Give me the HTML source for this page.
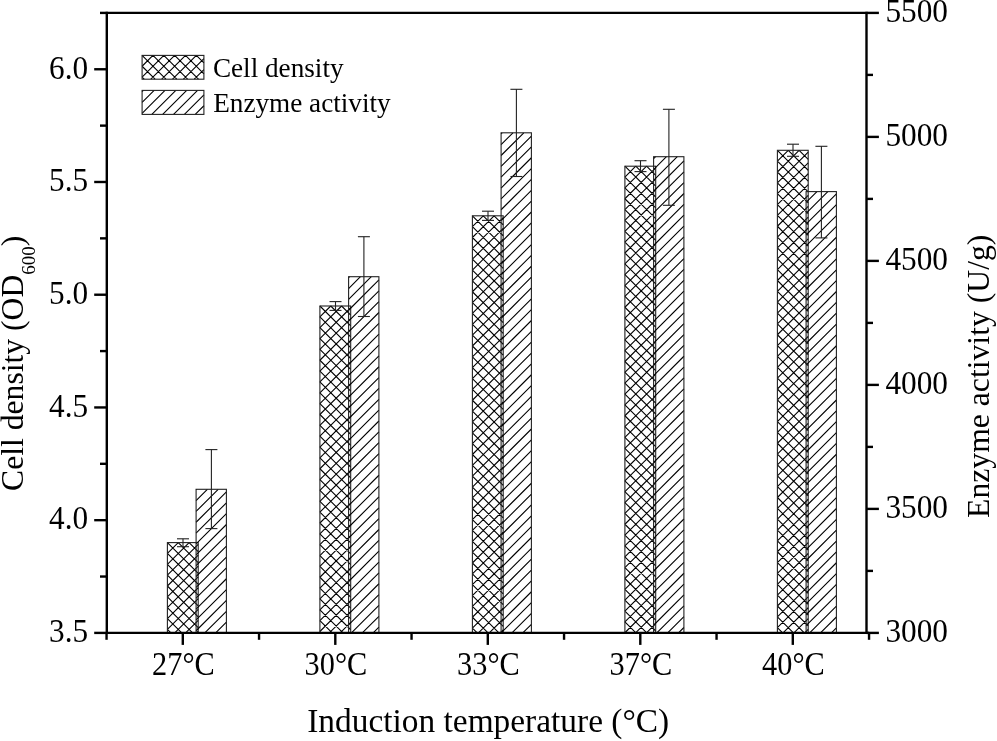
<!DOCTYPE html>
<html lang="en">
<head>
<meta charset="utf-8">
<title>Effect of induction temperature on cell density and enzyme activity</title>
<style>
html,body{margin:0;padding:0;background:#fff;}
body{width:997px;height:741px;overflow:hidden;}
svg text{white-space:pre;}
</style>
</head>
<body>
<svg width="997" height="741" viewBox="0 0 997 741" style="display:block" font-family="'Liberation Serif', serif" fill="#000" stroke="#000">
<rect x="0" y="0" width="997" height="741" fill="#fff" stroke="none"/>
<g id="bars">
<path d="M167.4 553.45L178.25 542.6M167.4 564.3L189.1 542.6M167.4 575.15L198.2 544.35M167.4 586L198.2 555.2M167.4 596.85L198.2 566.05M167.4 607.7L198.2 576.9M167.4 618.55L198.2 587.75M167.4 629.4L198.2 598.6M174.75 632.9L198.2 609.45M185.6 632.9L198.2 620.3M196.45 632.9L198.2 631.15M167.4 629.4L170.9 632.9M167.4 618.55L181.75 632.9M167.4 607.7L192.6 632.9M167.4 596.85L198.2 627.65M167.4 586L198.2 616.8M167.4 575.15L198.2 605.95M167.4 564.3L198.2 595.1M167.4 553.45L198.2 584.25M167.4 542.6L198.2 573.4M178.25 542.6L198.2 562.55M189.1 542.6L198.2 551.7" stroke-width="1.1" fill="none"/>
<rect x="167.4" y="542.6" width="30.8" height="90.3" fill="none" stroke="#222" stroke-width="1.1"/>
<path d="M196.1 489.7L196.5 489.3M196.1 500.55L207.35 489.3M196.1 511.4L218.2 489.3M196.1 522.25L226.4 491.95M196.1 533.1L226.4 502.8M196.1 543.95L226.4 513.65M196.1 554.8L226.4 524.5M196.1 565.65L226.4 535.35M196.1 576.5L226.4 546.2M196.1 587.35L226.4 557.05M196.1 598.2L226.4 567.9M196.1 609.05L226.4 578.75M196.1 619.9L226.4 589.6M196.1 630.75L226.4 600.45M204.8 632.9L226.4 611.3M215.65 632.9L226.4 622.15" stroke-width="1.1" fill="none"/>
<rect x="196.1" y="489.3" width="30.3" height="143.6" fill="none" stroke="#222" stroke-width="1.1"/>
<line x1="183" y1="538.8" x2="183" y2="546.7" stroke-width="1.1" stroke="#222"/>
<line x1="177" y1="538.8" x2="189" y2="538.8" stroke-width="1.1" stroke="#222"/>
<line x1="177" y1="546.7" x2="189" y2="546.7" stroke-width="1.1" stroke="#222"/>
<line x1="211.4" y1="449.6" x2="211.4" y2="528.6" stroke-width="1.1" stroke="#222"/>
<line x1="205.4" y1="449.6" x2="217.4" y2="449.6" stroke-width="1.1" stroke="#222"/>
<line x1="205.4" y1="528.6" x2="217.4" y2="528.6" stroke-width="1.1" stroke="#222"/>
<path d="M319.9 316.85L330.75 306M319.9 327.7L341.6 306M319.9 338.55L350.7 307.75M319.9 349.4L350.7 318.6M319.9 360.25L350.7 329.45M319.9 371.1L350.7 340.3M319.9 381.95L350.7 351.15M319.9 392.8L350.7 362M319.9 403.65L350.7 372.85M319.9 414.5L350.7 383.7M319.9 425.35L350.7 394.55M319.9 436.2L350.7 405.4M319.9 447.05L350.7 416.25M319.9 457.9L350.7 427.1M319.9 468.75L350.7 437.95M319.9 479.6L350.7 448.8M319.9 490.45L350.7 459.65M319.9 501.3L350.7 470.5M319.9 512.15L350.7 481.35M319.9 523L350.7 492.2M319.9 533.85L350.7 503.05M319.9 544.7L350.7 513.9M319.9 555.55L350.7 524.75M319.9 566.4L350.7 535.6M319.9 577.25L350.7 546.45M319.9 588.1L350.7 557.3M319.9 598.95L350.7 568.15M319.9 609.8L350.7 579M319.9 620.65L350.7 589.85M319.9 631.5L350.7 600.7M329.35 632.9L350.7 611.55M340.2 632.9L350.7 622.4M319.9 631.5L321.3 632.9M319.9 620.65L332.15 632.9M319.9 609.8L343 632.9M319.9 598.95L350.7 629.75M319.9 588.1L350.7 618.9M319.9 577.25L350.7 608.05M319.9 566.4L350.7 597.2M319.9 555.55L350.7 586.35M319.9 544.7L350.7 575.5M319.9 533.85L350.7 564.65M319.9 523L350.7 553.8M319.9 512.15L350.7 542.95M319.9 501.3L350.7 532.1M319.9 490.45L350.7 521.25M319.9 479.6L350.7 510.4M319.9 468.75L350.7 499.55M319.9 457.9L350.7 488.7M319.9 447.05L350.7 477.85M319.9 436.2L350.7 467M319.9 425.35L350.7 456.15M319.9 414.5L350.7 445.3M319.9 403.65L350.7 434.45M319.9 392.8L350.7 423.6M319.9 381.95L350.7 412.75M319.9 371.1L350.7 401.9M319.9 360.25L350.7 391.05M319.9 349.4L350.7 380.2M319.9 338.55L350.7 369.35M319.9 327.7L350.7 358.5M319.9 316.85L350.7 347.65M319.9 306L350.7 336.8M330.75 306L350.7 325.95M341.6 306L350.7 315.1" stroke-width="1.1" fill="none"/>
<rect x="319.9" y="306" width="30.8" height="326.9" fill="none" stroke="#222" stroke-width="1.1"/>
<path d="M348.6 277.7L349.6 276.7M348.6 288.55L360.45 276.7M348.6 299.4L371.3 276.7M348.6 310.25L378.9 279.95M348.6 321.1L378.9 290.8M348.6 331.95L378.9 301.65M348.6 342.8L378.9 312.5M348.6 353.65L378.9 323.35M348.6 364.5L378.9 334.2M348.6 375.35L378.9 345.05M348.6 386.2L378.9 355.9M348.6 397.05L378.9 366.75M348.6 407.9L378.9 377.6M348.6 418.75L378.9 388.45M348.6 429.6L378.9 399.3M348.6 440.45L378.9 410.15M348.6 451.3L378.9 421M348.6 462.15L378.9 431.85M348.6 473L378.9 442.7M348.6 483.85L378.9 453.55M348.6 494.7L378.9 464.4M348.6 505.55L378.9 475.25M348.6 516.4L378.9 486.1M348.6 527.25L378.9 496.95M348.6 538.1L378.9 507.8M348.6 548.95L378.9 518.65M348.6 559.8L378.9 529.5M348.6 570.65L378.9 540.35M348.6 581.5L378.9 551.2M348.6 592.35L378.9 562.05M348.6 603.2L378.9 572.9M348.6 614.05L378.9 583.75M348.6 624.9L378.9 594.6M351.45 632.9L378.9 605.45M362.3 632.9L378.9 616.3M373.15 632.9L378.9 627.15" stroke-width="1.1" fill="none"/>
<rect x="348.6" y="276.7" width="30.3" height="356.2" fill="none" stroke="#222" stroke-width="1.1"/>
<line x1="335.5" y1="301.6" x2="335.5" y2="310.4" stroke-width="1.1" stroke="#222"/>
<line x1="329.5" y1="301.6" x2="341.5" y2="301.6" stroke-width="1.1" stroke="#222"/>
<line x1="329.5" y1="310.4" x2="341.5" y2="310.4" stroke-width="1.1" stroke="#222"/>
<line x1="363.9" y1="236.7" x2="363.9" y2="316.5" stroke-width="1.1" stroke="#222"/>
<line x1="357.9" y1="236.7" x2="369.9" y2="236.7" stroke-width="1.1" stroke="#222"/>
<line x1="357.9" y1="316.5" x2="369.9" y2="316.5" stroke-width="1.1" stroke="#222"/>
<path d="M472.4 226.65L483.25 215.8M472.4 237.5L494.1 215.8M472.4 248.35L503.2 217.55M472.4 259.2L503.2 228.4M472.4 270.05L503.2 239.25M472.4 280.9L503.2 250.1M472.4 291.75L503.2 260.95M472.4 302.6L503.2 271.8M472.4 313.45L503.2 282.65M472.4 324.3L503.2 293.5M472.4 335.15L503.2 304.35M472.4 346L503.2 315.2M472.4 356.85L503.2 326.05M472.4 367.7L503.2 336.9M472.4 378.55L503.2 347.75M472.4 389.4L503.2 358.6M472.4 400.25L503.2 369.45M472.4 411.1L503.2 380.3M472.4 421.95L503.2 391.15M472.4 432.8L503.2 402M472.4 443.65L503.2 412.85M472.4 454.5L503.2 423.7M472.4 465.35L503.2 434.55M472.4 476.2L503.2 445.4M472.4 487.05L503.2 456.25M472.4 497.9L503.2 467.1M472.4 508.75L503.2 477.95M472.4 519.6L503.2 488.8M472.4 530.45L503.2 499.65M472.4 541.3L503.2 510.5M472.4 552.15L503.2 521.35M472.4 563L503.2 532.2M472.4 573.85L503.2 543.05M472.4 584.7L503.2 553.9M472.4 595.55L503.2 564.75M472.4 606.4L503.2 575.6M472.4 617.25L503.2 586.45M472.4 628.1L503.2 597.3M478.45 632.9L503.2 608.15M489.3 632.9L503.2 619M500.15 632.9L503.2 629.85M472.4 628.1L477.2 632.9M472.4 617.25L488.05 632.9M472.4 606.4L498.9 632.9M472.4 595.55L503.2 626.35M472.4 584.7L503.2 615.5M472.4 573.85L503.2 604.65M472.4 563L503.2 593.8M472.4 552.15L503.2 582.95M472.4 541.3L503.2 572.1M472.4 530.45L503.2 561.25M472.4 519.6L503.2 550.4M472.4 508.75L503.2 539.55M472.4 497.9L503.2 528.7M472.4 487.05L503.2 517.85M472.4 476.2L503.2 507M472.4 465.35L503.2 496.15M472.4 454.5L503.2 485.3M472.4 443.65L503.2 474.45M472.4 432.8L503.2 463.6M472.4 421.95L503.2 452.75M472.4 411.1L503.2 441.9M472.4 400.25L503.2 431.05M472.4 389.4L503.2 420.2M472.4 378.55L503.2 409.35M472.4 367.7L503.2 398.5M472.4 356.85L503.2 387.65M472.4 346L503.2 376.8M472.4 335.15L503.2 365.95M472.4 324.3L503.2 355.1M472.4 313.45L503.2 344.25M472.4 302.6L503.2 333.4M472.4 291.75L503.2 322.55M472.4 280.9L503.2 311.7M472.4 270.05L503.2 300.85M472.4 259.2L503.2 290M472.4 248.35L503.2 279.15M472.4 237.5L503.2 268.3M472.4 226.65L503.2 257.45M472.4 215.8L503.2 246.6M483.25 215.8L503.2 235.75M494.1 215.8L503.2 224.9" stroke-width="1.1" fill="none"/>
<rect x="472.4" y="215.8" width="30.8" height="417.1" fill="none" stroke="#222" stroke-width="1.1"/>
<path d="M501.1 133.8L502.1 132.8M501.1 144.65L512.95 132.8M501.1 155.5L523.8 132.8M501.1 166.35L531.4 136.05M501.1 177.2L531.4 146.9M501.1 188.05L531.4 157.75M501.1 198.9L531.4 168.6M501.1 209.75L531.4 179.45M501.1 220.6L531.4 190.3M501.1 231.45L531.4 201.15M501.1 242.3L531.4 212M501.1 253.15L531.4 222.85M501.1 264L531.4 233.7M501.1 274.85L531.4 244.55M501.1 285.7L531.4 255.4M501.1 296.55L531.4 266.25M501.1 307.4L531.4 277.1M501.1 318.25L531.4 287.95M501.1 329.1L531.4 298.8M501.1 339.95L531.4 309.65M501.1 350.8L531.4 320.5M501.1 361.65L531.4 331.35M501.1 372.5L531.4 342.2M501.1 383.35L531.4 353.05M501.1 394.2L531.4 363.9M501.1 405.05L531.4 374.75M501.1 415.9L531.4 385.6M501.1 426.75L531.4 396.45M501.1 437.6L531.4 407.3M501.1 448.45L531.4 418.15M501.1 459.3L531.4 429M501.1 470.15L531.4 439.85M501.1 481L531.4 450.7M501.1 491.85L531.4 461.55M501.1 502.7L531.4 472.4M501.1 513.55L531.4 483.25M501.1 524.4L531.4 494.1M501.1 535.25L531.4 504.95M501.1 546.1L531.4 515.8M501.1 556.95L531.4 526.65M501.1 567.8L531.4 537.5M501.1 578.65L531.4 548.35M501.1 589.5L531.4 559.2M501.1 600.35L531.4 570.05M501.1 611.2L531.4 580.9M501.1 622.05L531.4 591.75M501.1 632.9L531.4 602.6M511.95 632.9L531.4 613.45M522.8 632.9L531.4 624.3" stroke-width="1.1" fill="none"/>
<rect x="501.1" y="132.8" width="30.3" height="500.1" fill="none" stroke="#222" stroke-width="1.1"/>
<line x1="488" y1="211.2" x2="488" y2="220.4" stroke-width="1.1" stroke="#222"/>
<line x1="482" y1="211.2" x2="494" y2="211.2" stroke-width="1.1" stroke="#222"/>
<line x1="482" y1="220.4" x2="494" y2="220.4" stroke-width="1.1" stroke="#222"/>
<line x1="516.4" y1="89.3" x2="516.4" y2="176.5" stroke-width="1.1" stroke="#222"/>
<line x1="510.4" y1="89.3" x2="522.4" y2="89.3" stroke-width="1.1" stroke="#222"/>
<line x1="510.4" y1="176.5" x2="522.4" y2="176.5" stroke-width="1.1" stroke="#222"/>
<path d="M624.9 177.05L635.75 166.2M624.9 187.9L646.6 166.2M624.9 198.75L655.7 167.95M624.9 209.6L655.7 178.8M624.9 220.45L655.7 189.65M624.9 231.3L655.7 200.5M624.9 242.15L655.7 211.35M624.9 253L655.7 222.2M624.9 263.85L655.7 233.05M624.9 274.7L655.7 243.9M624.9 285.55L655.7 254.75M624.9 296.4L655.7 265.6M624.9 307.25L655.7 276.45M624.9 318.1L655.7 287.3M624.9 328.95L655.7 298.15M624.9 339.8L655.7 309M624.9 350.65L655.7 319.85M624.9 361.5L655.7 330.7M624.9 372.35L655.7 341.55M624.9 383.2L655.7 352.4M624.9 394.05L655.7 363.25M624.9 404.9L655.7 374.1M624.9 415.75L655.7 384.95M624.9 426.6L655.7 395.8M624.9 437.45L655.7 406.65M624.9 448.3L655.7 417.5M624.9 459.15L655.7 428.35M624.9 470L655.7 439.2M624.9 480.85L655.7 450.05M624.9 491.7L655.7 460.9M624.9 502.55L655.7 471.75M624.9 513.4L655.7 482.6M624.9 524.25L655.7 493.45M624.9 535.1L655.7 504.3M624.9 545.95L655.7 515.15M624.9 556.8L655.7 526M624.9 567.65L655.7 536.85M624.9 578.5L655.7 547.7M624.9 589.35L655.7 558.55M624.9 600.2L655.7 569.4M624.9 611.05L655.7 580.25M624.9 621.9L655.7 591.1M624.9 632.75L655.7 601.95M635.6 632.9L655.7 612.8M646.45 632.9L655.7 623.65M624.9 632.75L625.05 632.9M624.9 621.9L635.9 632.9M624.9 611.05L646.75 632.9M624.9 600.2L655.7 631M624.9 589.35L655.7 620.15M624.9 578.5L655.7 609.3M624.9 567.65L655.7 598.45M624.9 556.8L655.7 587.6M624.9 545.95L655.7 576.75M624.9 535.1L655.7 565.9M624.9 524.25L655.7 555.05M624.9 513.4L655.7 544.2M624.9 502.55L655.7 533.35M624.9 491.7L655.7 522.5M624.9 480.85L655.7 511.65M624.9 470L655.7 500.8M624.9 459.15L655.7 489.95M624.9 448.3L655.7 479.1M624.9 437.45L655.7 468.25M624.9 426.6L655.7 457.4M624.9 415.75L655.7 446.55M624.9 404.9L655.7 435.7M624.9 394.05L655.7 424.85M624.9 383.2L655.7 414M624.9 372.35L655.7 403.15M624.9 361.5L655.7 392.3M624.9 350.65L655.7 381.45M624.9 339.8L655.7 370.6M624.9 328.95L655.7 359.75M624.9 318.1L655.7 348.9M624.9 307.25L655.7 338.05M624.9 296.4L655.7 327.2M624.9 285.55L655.7 316.35M624.9 274.7L655.7 305.5M624.9 263.85L655.7 294.65M624.9 253L655.7 283.8M624.9 242.15L655.7 272.95M624.9 231.3L655.7 262.1M624.9 220.45L655.7 251.25M624.9 209.6L655.7 240.4M624.9 198.75L655.7 229.55M624.9 187.9L655.7 218.7M624.9 177.05L655.7 207.85M624.9 166.2L655.7 197M635.75 166.2L655.7 186.15M646.6 166.2L655.7 175.3" stroke-width="1.1" fill="none"/>
<rect x="624.9" y="166.2" width="30.8" height="466.7" fill="none" stroke="#222" stroke-width="1.1"/>
<path d="M653.6 158.7L655.6 156.7M653.6 169.55L666.45 156.7M653.6 180.4L677.3 156.7M653.6 191.25L683.9 160.95M653.6 202.1L683.9 171.8M653.6 212.95L683.9 182.65M653.6 223.8L683.9 193.5M653.6 234.65L683.9 204.35M653.6 245.5L683.9 215.2M653.6 256.35L683.9 226.05M653.6 267.2L683.9 236.9M653.6 278.05L683.9 247.75M653.6 288.9L683.9 258.6M653.6 299.75L683.9 269.45M653.6 310.6L683.9 280.3M653.6 321.45L683.9 291.15M653.6 332.3L683.9 302M653.6 343.15L683.9 312.85M653.6 354L683.9 323.7M653.6 364.85L683.9 334.55M653.6 375.7L683.9 345.4M653.6 386.55L683.9 356.25M653.6 397.4L683.9 367.1M653.6 408.25L683.9 377.95M653.6 419.1L683.9 388.8M653.6 429.95L683.9 399.65M653.6 440.8L683.9 410.5M653.6 451.65L683.9 421.35M653.6 462.5L683.9 432.2M653.6 473.35L683.9 443.05M653.6 484.2L683.9 453.9M653.6 495.05L683.9 464.75M653.6 505.9L683.9 475.6M653.6 516.75L683.9 486.45M653.6 527.6L683.9 497.3M653.6 538.45L683.9 508.15M653.6 549.3L683.9 519M653.6 560.15L683.9 529.85M653.6 571L683.9 540.7M653.6 581.85L683.9 551.55M653.6 592.7L683.9 562.4M653.6 603.55L683.9 573.25M653.6 614.4L683.9 584.1M653.6 625.25L683.9 594.95M656.8 632.9L683.9 605.8M667.65 632.9L683.9 616.65M678.5 632.9L683.9 627.5" stroke-width="1.1" fill="none"/>
<rect x="653.6" y="156.7" width="30.3" height="476.2" fill="none" stroke="#222" stroke-width="1.1"/>
<line x1="640.5" y1="160.7" x2="640.5" y2="171.6" stroke-width="1.1" stroke="#222"/>
<line x1="634.5" y1="160.7" x2="646.5" y2="160.7" stroke-width="1.1" stroke="#222"/>
<line x1="634.5" y1="171.6" x2="646.5" y2="171.6" stroke-width="1.1" stroke="#222"/>
<line x1="668.9" y1="109.3" x2="668.9" y2="205.3" stroke-width="1.1" stroke="#222"/>
<line x1="662.9" y1="109.3" x2="674.9" y2="109.3" stroke-width="1.1" stroke="#222"/>
<line x1="662.9" y1="205.3" x2="674.9" y2="205.3" stroke-width="1.1" stroke="#222"/>
<path d="M777.4 161.15L788.25 150.3M777.4 172L799.1 150.3M777.4 182.85L808.2 152.05M777.4 193.7L808.2 162.9M777.4 204.55L808.2 173.75M777.4 215.4L808.2 184.6M777.4 226.25L808.2 195.45M777.4 237.1L808.2 206.3M777.4 247.95L808.2 217.15M777.4 258.8L808.2 228M777.4 269.65L808.2 238.85M777.4 280.5L808.2 249.7M777.4 291.35L808.2 260.55M777.4 302.2L808.2 271.4M777.4 313.05L808.2 282.25M777.4 323.9L808.2 293.1M777.4 334.75L808.2 303.95M777.4 345.6L808.2 314.8M777.4 356.45L808.2 325.65M777.4 367.3L808.2 336.5M777.4 378.15L808.2 347.35M777.4 389L808.2 358.2M777.4 399.85L808.2 369.05M777.4 410.7L808.2 379.9M777.4 421.55L808.2 390.75M777.4 432.4L808.2 401.6M777.4 443.25L808.2 412.45M777.4 454.1L808.2 423.3M777.4 464.95L808.2 434.15M777.4 475.8L808.2 445M777.4 486.65L808.2 455.85M777.4 497.5L808.2 466.7M777.4 508.35L808.2 477.55M777.4 519.2L808.2 488.4M777.4 530.05L808.2 499.25M777.4 540.9L808.2 510.1M777.4 551.75L808.2 520.95M777.4 562.6L808.2 531.8M777.4 573.45L808.2 542.65M777.4 584.3L808.2 553.5M777.4 595.15L808.2 564.35M777.4 606L808.2 575.2M777.4 616.85L808.2 586.05M777.4 627.7L808.2 596.9M783.05 632.9L808.2 607.75M793.9 632.9L808.2 618.6M804.75 632.9L808.2 629.45M777.4 627.7L782.6 632.9M777.4 616.85L793.45 632.9M777.4 606L804.3 632.9M777.4 595.15L808.2 625.95M777.4 584.3L808.2 615.1M777.4 573.45L808.2 604.25M777.4 562.6L808.2 593.4M777.4 551.75L808.2 582.55M777.4 540.9L808.2 571.7M777.4 530.05L808.2 560.85M777.4 519.2L808.2 550M777.4 508.35L808.2 539.15M777.4 497.5L808.2 528.3M777.4 486.65L808.2 517.45M777.4 475.8L808.2 506.6M777.4 464.95L808.2 495.75M777.4 454.1L808.2 484.9M777.4 443.25L808.2 474.05M777.4 432.4L808.2 463.2M777.4 421.55L808.2 452.35M777.4 410.7L808.2 441.5M777.4 399.85L808.2 430.65M777.4 389L808.2 419.8M777.4 378.15L808.2 408.95M777.4 367.3L808.2 398.1M777.4 356.45L808.2 387.25M777.4 345.6L808.2 376.4M777.4 334.75L808.2 365.55M777.4 323.9L808.2 354.7M777.4 313.05L808.2 343.85M777.4 302.2L808.2 333M777.4 291.35L808.2 322.15M777.4 280.5L808.2 311.3M777.4 269.65L808.2 300.45M777.4 258.8L808.2 289.6M777.4 247.95L808.2 278.75M777.4 237.1L808.2 267.9M777.4 226.25L808.2 257.05M777.4 215.4L808.2 246.2M777.4 204.55L808.2 235.35M777.4 193.7L808.2 224.5M777.4 182.85L808.2 213.65M777.4 172L808.2 202.8M777.4 161.15L808.2 191.95M777.4 150.3L808.2 181.1M788.25 150.3L808.2 170.25M799.1 150.3L808.2 159.4" stroke-width="1.1" fill="none"/>
<rect x="777.4" y="150.3" width="30.8" height="482.6" fill="none" stroke="#222" stroke-width="1.1"/>
<path d="M806.1 202.45L816.95 191.6M806.1 213.3L827.8 191.6M806.1 224.15L836.4 193.85M806.1 235L836.4 204.7M806.1 245.85L836.4 215.55M806.1 256.7L836.4 226.4M806.1 267.55L836.4 237.25M806.1 278.4L836.4 248.1M806.1 289.25L836.4 258.95M806.1 300.1L836.4 269.8M806.1 310.95L836.4 280.65M806.1 321.8L836.4 291.5M806.1 332.65L836.4 302.35M806.1 343.5L836.4 313.2M806.1 354.35L836.4 324.05M806.1 365.2L836.4 334.9M806.1 376.05L836.4 345.75M806.1 386.9L836.4 356.6M806.1 397.75L836.4 367.45M806.1 408.6L836.4 378.3M806.1 419.45L836.4 389.15M806.1 430.3L836.4 400M806.1 441.15L836.4 410.85M806.1 452L836.4 421.7M806.1 462.85L836.4 432.55M806.1 473.7L836.4 443.4M806.1 484.55L836.4 454.25M806.1 495.4L836.4 465.1M806.1 506.25L836.4 475.95M806.1 517.1L836.4 486.8M806.1 527.95L836.4 497.65M806.1 538.8L836.4 508.5M806.1 549.65L836.4 519.35M806.1 560.5L836.4 530.2M806.1 571.35L836.4 541.05M806.1 582.2L836.4 551.9M806.1 593.05L836.4 562.75M806.1 603.9L836.4 573.6M806.1 614.75L836.4 584.45M806.1 625.6L836.4 595.3M809.65 632.9L836.4 606.15M820.5 632.9L836.4 617M831.35 632.9L836.4 627.85" stroke-width="1.1" fill="none"/>
<rect x="806.1" y="191.6" width="30.3" height="441.3" fill="none" stroke="#222" stroke-width="1.1"/>
<line x1="793" y1="144.2" x2="793" y2="156.3" stroke-width="1.1" stroke="#222"/>
<line x1="787" y1="144.2" x2="799" y2="144.2" stroke-width="1.1" stroke="#222"/>
<line x1="787" y1="156.3" x2="799" y2="156.3" stroke-width="1.1" stroke="#222"/>
<line x1="821.4" y1="146.3" x2="821.4" y2="237.9" stroke-width="1.1" stroke="#222"/>
<line x1="815.4" y1="146.3" x2="827.4" y2="146.3" stroke-width="1.1" stroke="#222"/>
<line x1="815.4" y1="237.9" x2="827.4" y2="237.9" stroke-width="1.1" stroke="#222"/>
</g>
<g id="axes" stroke-linecap="butt">
<line x1="106.8" y1="11.7" x2="106.8" y2="634.1" stroke-width="2.4"/>
<line x1="866.5" y1="11.7" x2="866.5" y2="634.1" stroke-width="2.4"/>
<line x1="106.8" y1="632.9" x2="869.05" y2="632.9" stroke-width="2.4"/>
<line x1="106.8" y1="12.9" x2="866.5" y2="12.9" stroke-width="2.4"/>
<line x1="94.2" y1="632.9" x2="106.8" y2="632.9" stroke-width="2.4"/>
<line x1="100" y1="576.54" x2="106.8" y2="576.54" stroke-width="2.4"/>
<line x1="94.2" y1="520.17" x2="106.8" y2="520.17" stroke-width="2.4"/>
<line x1="100" y1="463.81" x2="106.8" y2="463.81" stroke-width="2.4"/>
<line x1="94.2" y1="407.45" x2="106.8" y2="407.45" stroke-width="2.4"/>
<line x1="100" y1="351.08" x2="106.8" y2="351.08" stroke-width="2.4"/>
<line x1="94.2" y1="294.72" x2="106.8" y2="294.72" stroke-width="2.4"/>
<line x1="100" y1="238.35" x2="106.8" y2="238.35" stroke-width="2.4"/>
<line x1="94.2" y1="181.99" x2="106.8" y2="181.99" stroke-width="2.4"/>
<line x1="100" y1="125.63" x2="106.8" y2="125.63" stroke-width="2.4"/>
<line x1="94.2" y1="69.26" x2="106.8" y2="69.26" stroke-width="2.4"/>
<line x1="100" y1="12.9" x2="106.8" y2="12.9" stroke-width="2.4"/>
<line x1="866.5" y1="632.9" x2="878.9" y2="632.9" stroke-width="2.4"/>
<line x1="866.5" y1="570.9" x2="873" y2="570.9" stroke-width="2.4"/>
<line x1="866.5" y1="508.9" x2="878.9" y2="508.9" stroke-width="2.4"/>
<line x1="866.5" y1="446.9" x2="873" y2="446.9" stroke-width="2.4"/>
<line x1="866.5" y1="384.9" x2="878.9" y2="384.9" stroke-width="2.4"/>
<line x1="866.5" y1="322.9" x2="873" y2="322.9" stroke-width="2.4"/>
<line x1="866.5" y1="260.9" x2="878.9" y2="260.9" stroke-width="2.4"/>
<line x1="866.5" y1="198.9" x2="873" y2="198.9" stroke-width="2.4"/>
<line x1="866.5" y1="136.9" x2="878.9" y2="136.9" stroke-width="2.4"/>
<line x1="866.5" y1="74.9" x2="873" y2="74.9" stroke-width="2.4"/>
<line x1="866.5" y1="12.9" x2="878.9" y2="12.9" stroke-width="2.4"/>
<line x1="106.55" y1="632.9" x2="106.55" y2="639.8" stroke-width="2.4"/>
<line x1="259.05" y1="632.9" x2="259.05" y2="639.8" stroke-width="2.4"/>
<line x1="411.55" y1="632.9" x2="411.55" y2="639.8" stroke-width="2.4"/>
<line x1="564.05" y1="632.9" x2="564.05" y2="639.8" stroke-width="2.4"/>
<line x1="716.55" y1="632.9" x2="716.55" y2="639.8" stroke-width="2.4"/>
<line x1="869.05" y1="632.9" x2="869.05" y2="639.8" stroke-width="2.4"/>
<line x1="182.8" y1="632.9" x2="182.8" y2="644.9" stroke-width="2.4"/>
<line x1="335.3" y1="632.9" x2="335.3" y2="644.9" stroke-width="2.4"/>
<line x1="487.8" y1="632.9" x2="487.8" y2="644.9" stroke-width="2.4"/>
<line x1="640.3" y1="632.9" x2="640.3" y2="644.9" stroke-width="2.4"/>
<line x1="792.8" y1="632.9" x2="792.8" y2="644.9" stroke-width="2.4"/>
</g>
<g id="labels" stroke="none">
<text transform="translate(88.1,642.2) scale(0.953,1)" font-size="32.8" text-anchor="end">3.5</text>
<text transform="translate(88.1,529.47) scale(0.953,1)" font-size="32.8" text-anchor="end">4.0</text>
<text transform="translate(88.1,416.75) scale(0.953,1)" font-size="32.8" text-anchor="end">4.5</text>
<text transform="translate(88.1,304.02) scale(0.953,1)" font-size="32.8" text-anchor="end">5.0</text>
<text transform="translate(88.1,191.29) scale(0.953,1)" font-size="32.8" text-anchor="end">5.5</text>
<text transform="translate(88.1,78.56) scale(0.953,1)" font-size="32.8" text-anchor="end">6.0</text>
<text transform="translate(885.4,642.2) scale(0.954,1)" font-size="32.8">3000</text>
<text transform="translate(885.4,518.2) scale(0.954,1)" font-size="32.8">3500</text>
<text transform="translate(885.4,394.2) scale(0.954,1)" font-size="32.8">4000</text>
<text transform="translate(885.4,270.2) scale(0.954,1)" font-size="32.8">4500</text>
<text transform="translate(885.4,146.2) scale(0.954,1)" font-size="32.8">5000</text>
<text transform="translate(885.4,22.2) scale(0.954,1)" font-size="32.8">5500</text>
<text transform="translate(183.4,675.3) scale(0.925,1)" font-size="32.8" text-anchor="middle">27°C</text>
<text transform="translate(335.9,675.3) scale(0.925,1)" font-size="32.8" text-anchor="middle">30°C</text>
<text transform="translate(488.4,675.3) scale(0.925,1)" font-size="32.8" text-anchor="middle">33°C</text>
<text transform="translate(640.9,675.3) scale(0.925,1)" font-size="32.8" text-anchor="middle">37°C</text>
<text transform="translate(793.4,675.3) scale(0.925,1)" font-size="32.8" text-anchor="middle">40°C</text>
<text transform="translate(488.2,732.4)" font-size="33.4" text-anchor="middle">Induction temperature (°C)</text>
<text transform="translate(22.8,363.3) rotate(-90)" font-size="31.65" text-anchor="middle">Cell density (OD<tspan font-size="19" dy="12">600</tspan><tspan dy="-12">)</tspan></text>
<text transform="translate(989.2,376.3) rotate(-90)" font-size="31.7" text-anchor="middle">Enzyme activity (U/g)</text>
<text transform="translate(212.9,76.5)" font-size="27.2">Cell density</text>
<text transform="translate(213.2,111.6)" font-size="27.2">Enzyme activity</text>
</g>
<g id="legend">
<path d="M142.1 66.25L152.95 55.4M142.1 77.1L163.8 55.4M150.85 79.2L174.65 55.4M161.7 79.2L185.5 55.4M172.55 79.2L196.35 55.4M183.4 79.2L203.9 58.7M194.25 79.2L203.9 69.55M142.1 77.1L144.2 79.2M142.1 66.25L155.05 79.2M142.1 55.4L165.9 79.2M152.95 55.4L176.75 79.2M163.8 55.4L187.6 79.2M174.65 55.4L198.45 79.2M185.5 55.4L203.9 73.8M196.35 55.4L203.9 62.95" stroke-width="1.1" fill="none"/>
<rect x="142.1" y="55.4" width="61.8" height="23.8" fill="none" stroke="#222" stroke-width="1.1"/>
<path d="M142.1 91.6L143.3 90.4M142.1 102.45L154.15 90.4M142.1 113.3L165 90.4M151.85 114.4L175.85 90.4M162.7 114.4L186.7 90.4M173.55 114.4L197.55 90.4M184.4 114.4L203.9 94.9M195.25 114.4L203.9 105.75" stroke-width="1.1" fill="none"/>
<rect x="142.1" y="90.4" width="61.8" height="24" fill="none" stroke="#222" stroke-width="1.1"/>
</g>
</svg>
</body>
</html>
